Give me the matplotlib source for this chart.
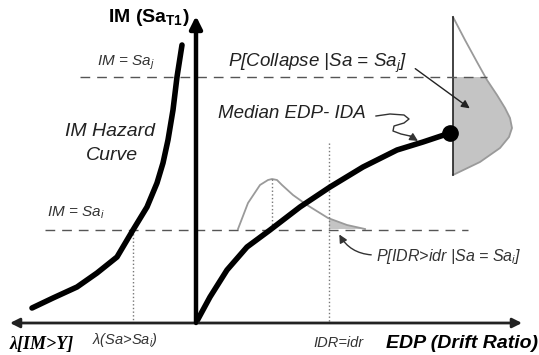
import matplotlib
matplotlib.use("Agg")
import matplotlib.pyplot as plt
from matplotlib.patches import Polygon, Rectangle

plt.rcParams['font.family'] = ['Liberation Sans', 'DejaVu Sans']
plt.rcParams['mathtext.fontset'] = 'custom'
plt.rcParams['mathtext.rm'] = 'Liberation Sans'
plt.rcParams['mathtext.it'] = 'Liberation Sans:italic'
plt.rcParams['mathtext.bf'] = 'Liberation Sans:bold'

# schematic drawn in picture units (x right, y down)
# IM hazard curve
haz_x = [32, 53, 77, 97, 117, 133, 147, 157, 163, 168, 173, 177, 182]
haz_y = [308, 298, 287, 273, 257, 230, 207, 183, 163, 140, 110, 77, 45]
# median EDP - IDA curve
ida_x = [197, 210, 227, 247, 270, 300, 330, 363, 397, 423, 450]
ida_y = [321, 297, 270, 247, 230, 207, 187, 167, 150, 142, 133]
# collapse distribution at Sa_j
col_x = [453, 465, 477, 487, 497, 505, 510, 512, 509, 500, 480, 453]
col_y = [17, 40, 62, 80, 95, 108, 118, 128, 137, 148, 162, 175]
# EDP distribution at Sa_i
edp_x = [238, 248, 260, 268, 272, 277, 282, 293, 307, 328, 347, 365]
edp_y = [229, 203, 185, 180, 179, 180, 185, 195, 205, 218, 225, 229]
# wavy pointer to the IDA curve
wave_x = [376, 390, 404, 409, 404, 394, 393, 401, 410]
wave_y = [116, 114, 115, 119, 123, 126, 131, 134, 136]

origin = (196, 323)
sa_j = 77
sa_i = 230
lam_i = 133
idr = 329

fig = plt.figure(figsize=(5.39, 3.55), dpi=100)
ax = fig.add_axes([0, 0, 1, 1])
ax.set_xlim(0, 539)
ax.set_ylim(355, 0)
ax.axis('off')

# distributions
col = Polygon(list(zip(col_x, col_y)), closed=True, fc='#c4c4c4', ec='none')
ax.add_patch(col)
col.set_clip_path(Rectangle((440, sa_j), 100, 120, transform=ax.transData))
ax.plot(col_x, col_y, color='#9a9a9a', lw=1.3)
ax.plot([453, 453], [17, 175], color='#222222', lw=1.2)

edp = Polygon(list(zip(edp_x, edp_y)), closed=True, fc='#c4c4c4', ec='none')
ax.add_patch(edp)
edp.set_clip_path(Rectangle((idr, 150), 60, 80, transform=ax.transData))
ax.plot(edp_x, edp_y, color='#9a9a9a', lw=1.3)

# dashed levels
ax.plot([80, 487], [sa_j, sa_j], color='#555555', lw=1, dashes=(7, 5))
ax.plot([45, 468], [sa_i, sa_i], color='#555555', lw=1, dashes=(7, 5))

# dotted verticals
ax.plot([lam_i, lam_i], [sa_i, origin[1]], color='#777777', lw=1, ls=':')
ax.plot([272, 272], [179, sa_i], color='#777777', lw=1, ls=':')
ax.plot([idr, idr], [143, origin[1]], color='#777777', lw=1, ls=':')

# axes
ax.annotate('', xy=(10, origin[1]), xytext=(522, origin[1]),
            arrowprops=dict(arrowstyle='<|-|>', lw=2, color='#222222',
                            mutation_scale=14, shrinkA=0, shrinkB=0))
ax.annotate('', xy=(origin[0], 16), xytext=origin,
            arrowprops=dict(arrowstyle='-|>', lw=3.2, color='black',
                            mutation_scale=18, shrinkA=0, shrinkB=0))

# curves
ax.plot(haz_x, haz_y, color='black', lw=4, solid_capstyle='round', solid_joinstyle='round')
ax.plot(ida_x, ida_y, color='black', lw=4, solid_capstyle='round', solid_joinstyle='round')
ax.plot(ida_x[-1], ida_y[-1], 'o', color='black', ms=11)

# labels
ax.text(149, 18, r'IM (Sa$_{\mathbf{T1}}$)', fontsize=14, weight='bold', ha='center', va='center')
ax.text(126, 63, r'IM = Sa$_j$', fontsize=11, style='italic', ha='center', va='center', color='#333333')
ax.text(76, 213, r'IM = Sa$_i$', fontsize=11, style='italic', ha='center', va='center', color='#333333')
ax.text(110, 131, 'IM Hazard', fontsize=14, style='italic', ha='center', va='center', color='#222222')
ax.text(112, 155, 'Curve', fontsize=14, style='italic', ha='center', va='center', color='#222222')
ax.text(228, 63, r'P[Collapse |Sa = Sa$_j$]', fontsize=13.5, style='italic', ha='left', va='center', color='#222222')
ax.text(218, 113, 'Median EDP- IDA', fontsize=13.5, style='italic', ha='left', va='center', color='#222222')
ax.text(376, 257, r'P[IDR>idr |Sa = Sa$_i$]', fontsize=11.5, style='italic', ha='left', va='center', color='#333333')
ax.text(42, 345, 'λ[IM>Y]', family='Liberation Serif', fontsize=13, weight='bold',
        style='italic', ha='center', va='center')
ax.text(125, 340, r'λ(Sa>Sa$_i$)', fontsize=10.5, style='italic', ha='center', va='center', color='#333333')
ax.text(338, 343, 'IDR=idr', fontsize=10.5, style='italic', ha='center', va='center', color='#333333')
ax.text(462, 344, 'EDP (Drift Ratio)', fontsize=14, weight='bold', style='italic',
        ha='center', va='center')

# pointers
ax.annotate('', xy=(472, 110), xytext=(413, 67),
            arrowprops=dict(arrowstyle='-|>', lw=1, color='#222222', mutation_scale=12))
ax.plot(wave_x, wave_y, color='#333333', lw=1)
ax.annotate('', xy=(418, 141), xytext=(wave_x[-1], wave_y[-1]),
            arrowprops=dict(arrowstyle='-|>', lw=1, color='#333333', mutation_scale=12,
                            shrinkA=0, shrinkB=0))
ax.annotate('', xy=(338, 232), xytext=(374, 255),
            arrowprops=dict(arrowstyle='-|>', lw=1, color='#333333', mutation_scale=12,
                            connectionstyle='arc3,rad=-0.3'))

fig.savefig('out.png', dpi=100)
